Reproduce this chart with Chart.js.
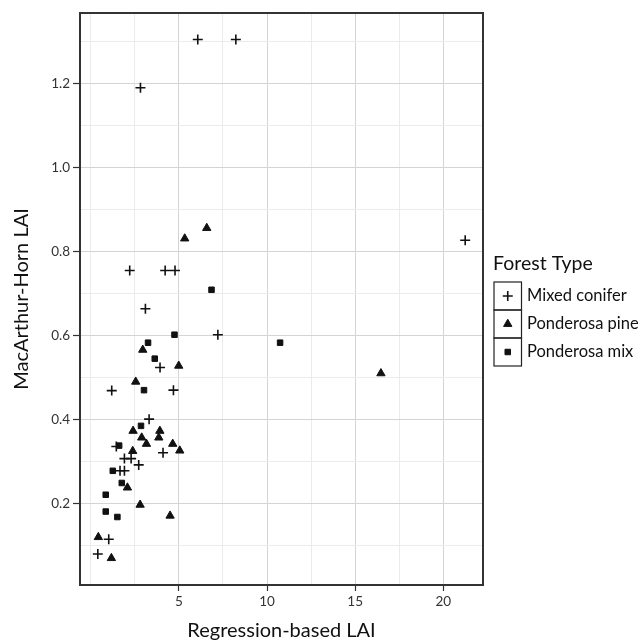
<!DOCTYPE html>
<html><head><meta charset="utf-8">
<script src="https://cdn.jsdelivr.net/npm/chart.js@4.4.1/dist/chart.umd.min.js"></script>
<style>html,body{margin:0;padding:0;background:#fff;}#wrap{width:644px;height:643px;position:relative;}</style>
</head><body><div id="wrap"><canvas id="c" width="644" height="643"></canvas></div>
<script>
const seriesNames = ['Mixed conifer', 'Ponderosa pine', 'Ponderosa mix'];
const legendTitle = 'Forest Type';
const xTitle = 'Regression-based LAI';
const yTitle = 'MacArthur-Horn LAI';

const mixedConiferX = [6.07, 8.23, 2.82, 21.24, 2.21, 4.22, 4.78, 3.10, 7.21, 3.93, 1.19, 4.69, 3.31, 1.45, 4.10, 1.91, 2.29, 2.72, 1.66, 1.91, 1.02, 0.40];
const mixedConiferY = [1.306, 1.306, 1.191, 0.828, 0.756, 0.756, 0.756, 0.665, 0.603, 0.525, 0.470, 0.471, 0.402, 0.337, 0.322, 0.308, 0.308, 0.293, 0.279, 0.279, 0.116, 0.081];

const ponderosaPineX = [6.58, 5.33, 2.95, 4.99, 16.46, 2.55, 2.40, 3.92, 2.89, 3.86, 3.16, 4.65, 2.38, 5.05, 2.08, 2.80, 4.50, 0.43, 1.17];
const ponderosaPineY = [0.857, 0.832, 0.567, 0.529, 0.511, 0.491, 0.374, 0.374, 0.358, 0.358, 0.343, 0.343, 0.326, 0.327, 0.239, 0.198, 0.172, 0.121, 0.071];

const ponderosaMixX = [6.85, 4.75, 3.25, 10.74, 3.63, 3.02, 2.85, 1.61, 1.25, 1.76, 0.85, 0.85, 1.51];
const ponderosaMixY = [0.710, 0.603, 0.584, 0.584, 0.546, 0.471, 0.386, 0.339, 0.279, 0.250, 0.222, 0.182, 0.169];

const xTickLabels = [5, 10, 15, 20];
const xGridValues = [0, 2.5, 5, 7.5, 10, 12.5, 15, 17.5, 20];
const yTickLabels = [0.2, 0.4, 0.6, 0.8, 1.0, 1.2];
const yGridValues = [0.1, 0.2, 0.3, 0.4, 0.5, 0.6, 0.7, 0.8, 0.9, 1.0, 1.1, 1.2, 1.3];
const xRange = [-0.61, 22.25];
const yRange = [0.0071, 1.369];

const FONT = 'Lato, "Open Sans", sans-serif';
const INK = '#111111';
const isIn = (arr, v) => arr.some(a => Math.abs(a - v) < 1e-9);
const zip = (xs, ys) => xs.map((x, i) => ({x, y: ys[i]}));

const styles = [
  {pointStyle: 'cross', pointRadius: 5, borderWidth: 1.6, backgroundColor: INK, borderColor: INK},
  {pointStyle: 'triangle', pointRadius: 4.8, borderWidth: 1, backgroundColor: INK, borderColor: INK},
  {pointStyle: 'rect', pointRadius: 3.9, borderWidth: 1, backgroundColor: INK, borderColor: INK}
];
const seriesData = [zip(mixedConiferX, mixedConiferY), zip(ponderosaPineX, ponderosaPineY), zip(ponderosaMixX, ponderosaMixY)];

const datasets = seriesNames.map((name, i) => Object.assign({label: name, data: seriesData[i], pointHoverRadius: styles[i].pointRadius}, styles[i]));

const panelBorder = {
  id: 'panelBorder',
  afterDatasetsDraw(chart) {
    const {ctx, chartArea: a} = chart;
    ctx.save();
    ctx.strokeStyle = '#333333';
    ctx.lineWidth = 2;
    ctx.strokeRect(a.left, a.top, a.right - a.left, a.bottom - a.top);
    ctx.restore();
  }
};

const boxLegend = {
  id: 'boxLegend',
  afterDraw(chart) {
    const {ctx} = chart;
    const x0 = 494, top = 282, w = 27.5, h = 28;
    ctx.save();
    ctx.fillStyle = INK;
    ctx.font = '19.5px ' + FONT;
    ctx.textAlign = 'left';
    ctx.textBaseline = 'middle';
    ctx.fillText(legendTitle, 493, 264);
    chart.data.datasets.forEach((ds, i) => {
      const y = top + i * h;
      ctx.strokeStyle = '#222222';
      ctx.lineWidth = 1.2;
      ctx.strokeRect(x0, y, w, h);
      ctx.fillStyle = ds.backgroundColor;
      ctx.strokeStyle = ds.borderColor;
      ctx.lineWidth = ds.borderWidth;
      Chart.helpers.drawPoint(ctx, {pointStyle: ds.pointStyle, radius: ds.pointRadius, rotation: 0, borderWidth: ds.borderWidth}, x0 + w / 2, y + h / 2);
      ctx.fillStyle = INK;
      ctx.font = '16.5px ' + FONT;
      ctx.fillText(ds.label, 527, y + h / 2);
    });
    ctx.restore();
  }
};

new Chart(document.getElementById('c'), {
  type: 'scatter',
  data: {datasets},
  options: {
    responsive: false,
    animation: false,
    devicePixelRatio: 1,
    layout: {padding: {left: 0, right: 161, top: 13, bottom: 0}},
    plugins: {legend: {display: false}, tooltip: {enabled: false}},
    scales: {
      x: {
        type: 'linear', min: xRange[0], max: xRange[1],
        afterBuildTicks: s => { s.ticks = xGridValues.map(v => ({value: v})); },
        afterFit: s => { s.height = 58; },
        ticks: {
          autoSkip: false, maxRotation: 0, padding: 3,
          color: '#333333', font: {family: FONT, size: 13.5},
          callback: v => isIn(xTickLabels, v) ? String(v) : ''
        },
        grid: {
          tickLength: 6,
          color: c => isIn(xTickLabels, c.tick.value) ? '#d4d4d4' : '#ebebeb',
          lineWidth: 1,
          tickColor: c => isIn(xTickLabels, c.tick.value) ? '#333333' : 'rgba(0,0,0,0)',
          tickWidth: 1.2
        },
        border: {display: false},
        title: {display: true, text: xTitle, color: INK, font: {family: FONT, size: 20}, padding: {top: 0, bottom: 0}}
      },
      y: {
        type: 'linear', min: yRange[0], max: yRange[1],
        afterBuildTicks: s => { s.ticks = yGridValues.map(v => ({value: v})); },
        afterFit: s => { s.width = 80; },
        ticks: {
          autoSkip: false, padding: 3,
          color: '#333333', font: {family: FONT, size: 13.5},
          callback: v => isIn(yTickLabels, v) ? v.toFixed(1) : ''
        },
        grid: {
          tickLength: 7,
          color: c => isIn(yTickLabels, c.tick.value) ? '#d4d4d4' : '#ebebeb',
          lineWidth: 1,
          tickColor: c => isIn(yTickLabels, c.tick.value) ? '#333333' : 'rgba(0,0,0,0)',
          tickWidth: 1.2
        },
        border: {display: false},
        title: {display: true, text: yTitle, color: INK, font: {family: FONT, size: 20}, padding: {top: 10, bottom: 0}}
      }
    }
  },
  plugins: [panelBorder, boxLegend]
});
</script></body></html>
